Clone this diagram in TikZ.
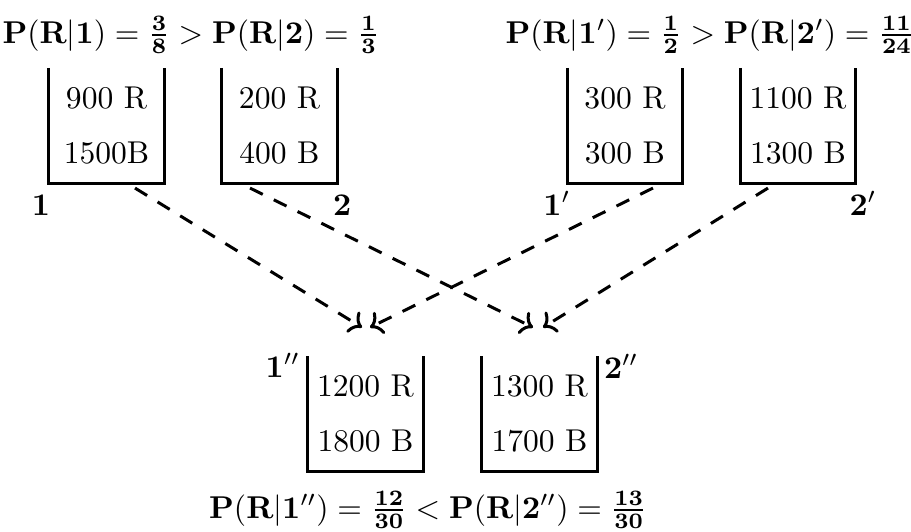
\documentclass[tikz,border=0pt]{standalone}
\usetikzlibrary{arrows.meta, positioning, calc}
\usepackage{amsmath}

\begin{document}
\begin{tikzpicture}[
    x=0.317pt, y=-0.317pt,
    urn/.style={minimum width=36.5pt, minimum height=36.5pt, inner sep=0pt,
                outer sep=0pt, align=center},
    wall/.style={line width=0.95pt},
    lab/.style={inner sep=0pt, outer sep=0pt},
    flow/.style={->, dash pattern=on 4.5pt off 3.9pt, line width=0.95pt},
    formula/.style={inner sep=0pt, anchor=base}
  ]
  \useasboundingbox (0,0) rectangle (911,531);

  \node[formula] (fL) at (191, 43)
    {$\mathbf{P}(\mathbf{R}|\mathbf{1})=\frac{\mathbf{3}}{\mathbf{8}}>\mathbf{P}(\mathbf{R}|\mathbf{2})=\frac{\mathbf{1}}{\mathbf{3}}$};
  \node[formula] (fR) at (710, 43)
    {$\mathbf{P}(\mathbf{R}|\mathbf{1}')=\frac{\mathbf{1}}{\mathbf{2}}>\mathbf{P}(\mathbf{R}|\mathbf{2}')=\frac{\mathbf{11}}{\mathbf{24}}$};
  \node[formula] (fB) at (428, 518)
    {$\mathbf{P}(\mathbf{R}|\mathbf{1}'')=\frac{\mathbf{12}}{\mathbf{30}}<\mathbf{P}(\mathbf{R}|\mathbf{2}'')=\frac{\mathbf{13}}{\mathbf{30}}$};

  % urns
  \node[urn] (u1)   at (106.5, 125.5) {900 R\\[5.4pt]1500B};
  \node[urn] (u2)   at (279.5, 125.5) {200 R\\[5.4pt]400 B};
  \node[urn] (u1p)  at (625, 125.5)   {300 R\\[5.4pt]300 B};
  \node[urn] (u2p)  at (798, 125.5)   {1100 R\\[5.4pt]1300 B};
  \node[urn] (u1pp) at (365.5, 414)   {1200 R\\[5.4pt]1800 B};
  \node[urn] (u2pp) at (539.5, 414)   {1300 R\\[5.4pt]1700 B};

  \foreach \u in {u1, u2, u1p, u2p, u1pp, u2pp}
    \draw[wall] (\u.north west) |- (\u.south east) -- (\u.north east);

  % urn labels
  \node[lab, anchor=base east] (n1)   at ($(u1.south west)+(1,32)$)   {$\mathbf{1}$};
  \node[lab, anchor=base west] (n2)   at ($(u2.south east)+(-4,32)$)  {$\mathbf{2}$};
  \node[lab, anchor=base east] (n1p)  at ($(u1p.south west)+(3,32)$)  {$\mathbf{1}'$};
  \node[lab, anchor=base west] (n2p)  at ($(u2p.south east)+(-6,32)$) {$\mathbf{2}'$};
  \node[lab, anchor=base east] (n1pp) at ($(u1pp.north west)+(-8,21)$) {$\mathbf{1}''$};
  \node[lab, anchor=base west] (n2pp) at ($(u2pp.north east)+(7,22)$)  {$\mathbf{2}''$};

  % mixing
  \draw[flow] ($(u1.south)+(28.5,5)$)   -- ($(u1pp.north)+(-3.5,-29)$);
  \draw[flow] ($(u1p.south)+(28,5)$)    -- ($(u1pp.north)+(4.5,-29)$);
  \draw[flow] ($(u2.south)+(-29.5,5)$)  -- ($(u2pp.north)+(-6.5,-29)$);
  \draw[flow] ($(u2p.south)+(-30,5)$)   -- ($(u2pp.north)+(3.5,-29)$);
\end{tikzpicture}
\end{document}
